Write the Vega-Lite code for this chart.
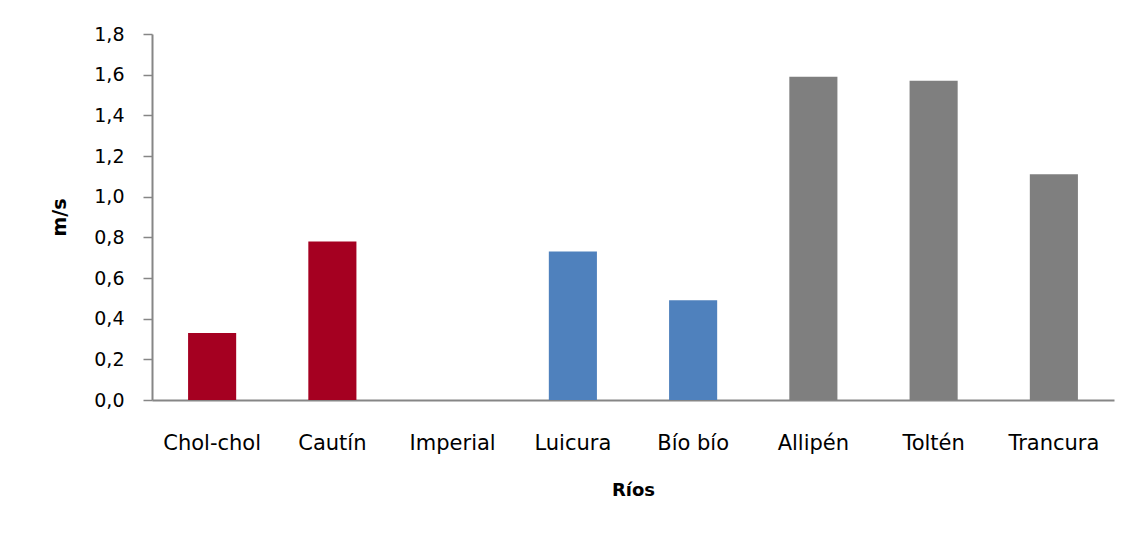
{
  "$schema": "https://vega.github.io/schema/vega-lite/v6.json",
  "width": 962,
  "height": 366,
  "autosize": {"type": "none"},
  "padding": {"left": 152, "top": 34, "right": 21, "bottom": 135},
  "background": "white",
  "config": {"view": {"stroke": null}, "font": "DejaVu Sans"},
  "data": {"values": [
    {"rio": "Chol-chol", "v": 0.33, "grupo": "A"},
    {"rio": "Cautín", "v": 0.78, "grupo": "A"},
    {"rio": "Imperial", "v": 0, "grupo": "A"},
    {"rio": "Luicura", "v": 0.73, "grupo": "B"},
    {"rio": "Bío bío", "v": 0.49, "grupo": "B"},
    {"rio": "Allipén", "v": 1.59, "grupo": "C"},
    {"rio": "Toltén", "v": 1.57, "grupo": "C"},
    {"rio": "Trancura", "v": 1.11, "grupo": "C"}
  ]},
  "mark": {"type": "bar"},
  "encoding": {
    "x": {
      "field": "rio", "type": "nominal", "sort": null,
      "scale": {"paddingInner": 0.6, "paddingOuter": 0.3},
      "axis": {
        "title": "Ríos", "titleFont": "DejaVu Sans", "titleFontSize": 18, "titleFontWeight": "bold",
        "titleColor": "black", "titlePadding": 28,
        "labelAngle": 0, "labelFontSize": 21, "labelColor": "black", "labelPadding": 32,
        "ticks": false, "domainColor": "#868686", "domainWidth": 2
      }
    },
    "y": {
      "field": "v", "type": "quantitative",
      "scale": {"domain": [0, 1.8], "nice": false},
      "axis": {
        "title": "m/s", "titleFontSize": 19, "titleFontWeight": "bold", "titleColor": "black", "titlePadding": 24,
        "values": [0, 0.2, 0.4, 0.6, 0.8, 1.0, 1.2, 1.4, 1.6, 1.8],
        "labelExpr": "replace(format(datum.value, '.1f'), '.', ',')",
        "labelFontSize": 19, "labelColor": "black", "labelPadding": 19,
        "tickSize": 9, "tickColor": "#868686", "tickWidth": 1.5,
        "domainColor": "#868686", "domainWidth": 2, "grid": false
      }
    },
    "color": {
      "field": "grupo", "type": "nominal", "legend": null,
      "scale": {"domain": ["A", "B", "C"], "range": ["#A50021", "#4F81BD", "#7F7F7F"]}
    }
  }
}
